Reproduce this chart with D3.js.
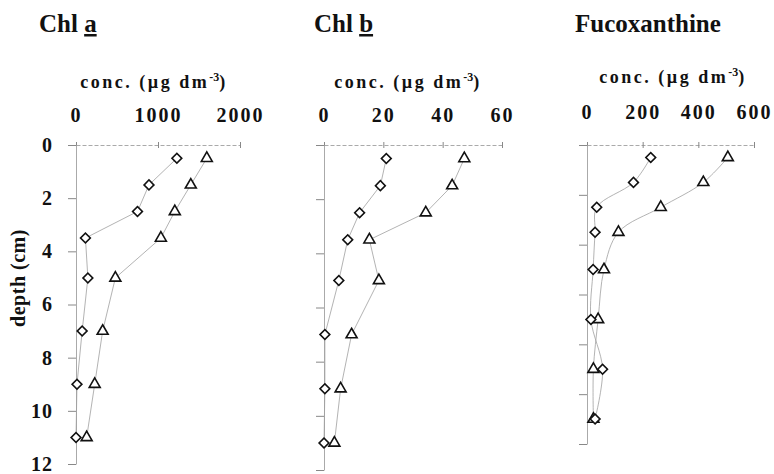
<!DOCTYPE html>
<html>
<head>
<meta charset="utf-8">
<script src="https://cdn.jsdelivr.net/npm/d3@7"></script>
<style>
    body { margin: 0; background: #fff; }
    text { font-family: "Liberation Serif", "Times New Roman", serif; font-weight: bold; fill: #111; }
</style>
</head>
<body>
<script>
// depth of each sample (cm)
const depths = [0.5, 1.5, 2.5, 3.5, 5, 7, 9, 11];
const depthTicks = [0, 2, 4, 6, 8, 10, 12];

// Chl a
const chlADiamonds = [1230, 890, 750, 115, 145, 75, 12, 0];
const chlATriangles = [1595, 1400, 1205, 1035, 480, 325, 228, 130];
const chlATicks = [0, 1000, 2000];

// Chl b
const chlBDiamonds = [21, 19, 12, 8, 5, 0.3, 0.3, 0];
const chlBTriangles = [47.3, 43.2, 34.3, 15.3, 18.5, 9.3, 5.6, 3.5];
const chlBTicks = [0, 20, 40, 60];

// Fucoxanthine
const fucoDiamonds = [229, 167, 35, 29, 22, 14, 56, 29];
const fucoTriangles = [506, 418, 265, 113, 61, 40, 23, 23];
const fucoTicks = [0, 200, 400, 600];

const width = 774,
    height = 474;

const svg = d3.select("body").append("svg")
    .attr("width", width)
    .attr("height", height)
    .attr("viewBox", `0 0 ${width} ${height}`);

let panels = [
    {
        name: "Chl ", sub: "a", diamonds: chlADiamonds, triangles: chlATriangles, ticks: chlATicks,
        x0: 76, x1: 240, yBottom: 464, titleX: 39, concX: 154, concY: 88, tickY: 23,
        curve: d3.curveLinear, labels: true
    },
    {
        name: "Chl ", sub: "b", diamonds: chlBDiamonds, triangles: chlBTriangles, ticks: chlBTicks,
        x0: 324, x1: 502, yBottom: 470, titleX: 314, concX: 408, concY: 88, tickY: 23,
        curve: d3.curveLinear, labels: false
    },
    {
        name: "Fucoxanthine", sub: "", diamonds: fucoDiamonds, triangles: fucoTriangles, ticks: fucoTicks,
        x0: 587, x1: 754, yBottom: 444, titleX: 575, concX: 673, concY: 83, tickY: 26,
        curve: d3.curveCatmullRom, labels: false
    }
];

const axisTop = 145;

panels.forEach(p => {
    let xScale = d3.scaleLinear()
            .domain([0, p.ticks[p.ticks.length - 1]])
            .range([p.x0, p.x1]),
        yScale = d3.scaleLinear()
            .domain([0, 12])
            .range([axisTop, p.yBottom]);

    // panel title
    let title = svg.append("text")
        .attr("x", p.titleX)
        .attr("y", 32)
        .style("font-size", "25px");
    title.append("tspan").text(p.name);
    if (p.sub) {
        title.append("tspan")
            .style("text-decoration", "underline")
            .text(p.sub);
    }

    // axis title
    let conc = svg.append("text")
        .attr("x", p.concX)
        .attr("y", p.concY)
        .style("font-size", "18px")
        .style("letter-spacing", "2.5px")
        .style("text-anchor", "middle");
    conc.append("tspan").text("conc. (µg dm");
    conc.append("tspan").attr("dy", -7).style("font-size", "12px").style("letter-spacing", "0px").text("-3");
    conc.append("tspan").attr("dy", 7).text(")");

    // top axis
    let xAxisG = svg.append("g")
        .attr("transform", `translate(0,${axisTop})`)
        .call(d3.axisTop(xScale)
            .tickValues(p.ticks)
            .tickSizeInner(3)
            .tickSizeOuter(0)
            .tickPadding(p.tickY - 3)
            .tickFormat(d3.format("d")));
    xAxisG.select(".domain").attr("stroke", "#aaa").attr("stroke-dasharray", "4,2");
    xAxisG.selectAll(".tick line").attr("stroke", "#888").attr("y2", 3).attr("y1", -3);
    xAxisG.selectAll(".tick text")
        .style("font-size", "20px")
        .style("letter-spacing", "2px")
        .attr("fill", "#111");

    // depth axis
    let yAxisG = svg.append("g")
        .attr("transform", `translate(${p.x0},0)`)
        .call(d3.axisLeft(yScale)
            .tickValues(depthTicks)
            .tickSizeInner(8)
            .tickSizeOuter(0)
            .tickPadding(15)
            .tickFormat(p.labels ? d3.format("d") : () => ""));
    yAxisG.select(".domain").attr("stroke", "#aaa");
    yAxisG.selectAll(".tick line").attr("stroke", "#888");
    yAxisG.selectAll(".tick text")
        .style("font-size", "20px")
        .style("letter-spacing", "1px")
        .attr("fill", "#111");

    // connecting lines
    let line = d3.line()
        .x(d => xScale(d[0]))
        .y(d => yScale(d[1]))
        .curve(p.curve);

    [p.diamonds, p.triangles].forEach(values => {
        svg.append("path")
            .datum(values.map((v, i) => [v, depths[i]]))
            .attr("d", line)
            .attr("fill", "none")
            .attr("stroke", "#a0a0a0")
            .attr("stroke-width", 0.8);
    });

    // markers
    svg.append("g")
        .selectAll("path")
        .data(p.triangles)
        .enter()
        .append("path")
        .attr("d", d3.symbol(d3.symbolTriangle, 52))
        .attr("transform", (d, i) => `translate(${xScale(d)},${yScale(depths[i])})`)
        .attr("fill", "#fff")
        .attr("stroke", "#111")
        .attr("stroke-width", 1.6);

    svg.append("g")
        .selectAll("path")
        .data(p.diamonds)
        .enter()
        .append("path")
        .attr("d", d3.symbol(d3.symbolSquare, 48))
        .attr("transform", (d, i) => `translate(${xScale(d)},${yScale(depths[i])}) rotate(45)`)
        .attr("fill", "#fff")
        .attr("stroke", "#111")
        .attr("stroke-width", 1.6);
});

// depth title
svg.append("text")
    .attr("transform", "translate(25,278) rotate(-90)")
    .style("font-size", "20px")
    .style("letter-spacing", "0.5px")
    .style("text-anchor", "middle")
    .text("depth (cm)");
</script>
</body>
</html>
